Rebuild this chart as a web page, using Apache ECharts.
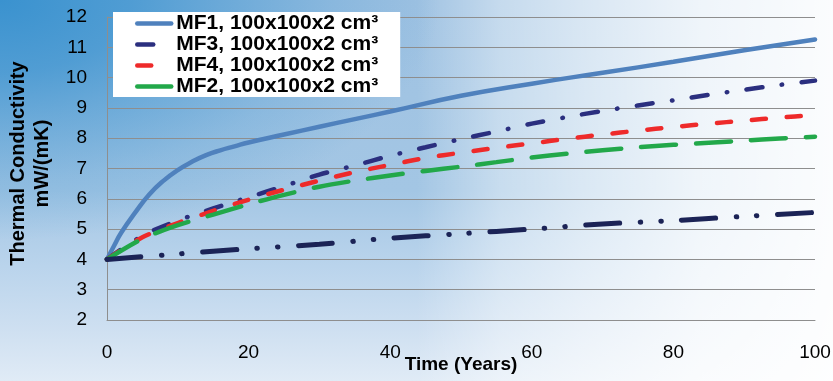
<!DOCTYPE html>
<html><head><meta charset="utf-8">
<script src="https://cdn.jsdelivr.net/npm/echarts@6/dist/echarts.min.js"></script>
<style>html,body{margin:0;padding:0;background:#fff}#c{width:833px;height:381px}</style>
</head><body><div id="c"></div>
<script>
// ---- data ----
const yearsFine = [0,1,2,4,6,8,10,12,14,16,18,20,25,30,35,40,50,60,70,80,90,100];
const mf1 = [4,4.45,4.88,5.55,6.15,6.6,6.95,7.22,7.44,7.6,7.73,7.86,8.12,8.38,8.63,8.88,9.4,9.8,10.16,10.52,10.9,11.26];
const years = [0,5,10,15,20,25,30,35,40,45,50,55,60,65,70,75,80,85,90,95,100];
const mf3 = [4,4.78,5.28,5.68,6.05,6.42,6.8,7.1,7.42,7.7,7.97,8.22,8.48,8.7,8.9,9.08,9.25,9.43,9.6,9.76,9.9];
const mf4 = [4,4.73,5.2,5.6,5.97,6.3,6.6,6.88,7.12,7.35,7.52,7.68,7.83,7.98,8.12,8.25,8.37,8.48,8.58,8.68,8.76];
const mf2 = [4,4.68,5.13,5.48,5.82,6.13,6.4,6.6,6.77,6.92,7.06,7.21,7.36,7.49,7.6,7.7,7.78,7.85,7.92,7.99,8.05];
const years10 = [0,10,20,30,40,50,60,70,80,90,100];
const base5 = [4,4.18,4.35,4.5,4.7,4.85,5.0,5.17,5.28,5.42,5.55];
const names = ['MF1, 100x100x2 cm³','MF3, 100x100x2 cm³','MF4, 100x100x2 cm³','MF2, 100x100x2 cm³'];
const xTitle = 'Time (Years)';
const yTitle = 'Thermal Conductivity\nmW/(mK)';

const pair = (xs, ys) => xs.map((x, i) => [x, ys[i]]);
const FF = "'Liberation Sans', Arial, sans-serif";
const chart = echarts.init(document.getElementById('c'), null, {renderer:'canvas'});

const mkLine = (name, data, color, width, type, smooth) => ({
  name, type:'line', data, symbol:'none', showSymbol:false, smooth:smooth,
  lineStyle:{color, width, type, cap:'round'}, itemStyle:{color}
});

chart.setOption({
  animation:false,
  graphic:[
    {type:'rect', x:0, y:0, z:-30, silent:true, shape:{width:833,height:381},
     style:{fill:{type:'linear',x:0,y:0,x2:0,y2:1,colorStops:[
       {offset:0,color:'#9fc2e2'},{offset:0.5,color:'#a3c6e4'},{offset:0.7,color:'#bad4ec'},
       {offset:0.87,color:'#cfe0f1'},{offset:1,color:'#e0ebf6'}]}}},
    {type:'rect', x:0, y:0, z:-20, silent:true, scaleX:440/240, shape:{width:240,height:240},
     style:{fill:{type:'radial',x:0,y:0,r:1,colorStops:[
       {offset:0,color:'rgba(58,146,207,1)'},{offset:0.3,color:'rgba(58,146,207,0.78)'},
       {offset:0.5,color:'rgba(58,146,207,0.52)'},{offset:0.75,color:'rgba(58,146,207,0.22)'},
       {offset:1,color:'rgba(58,146,207,0)'}]}}},
    {type:'rect', x:0, y:0, z:-10, silent:true, shape:{width:833,height:381},
     style:{fill:{type:'linear',x:0,y:0,x2:1,y2:0,colorStops:[
       {offset:0,color:'rgba(255,255,255,0)'},{offset:0.5,color:'rgba(255,255,255,0)'},
       {offset:0.6,color:'rgba(255,255,255,0.4)'},{offset:0.7,color:'rgba(255,255,255,0.6)'},
       {offset:0.84,color:'rgba(255,255,255,0.83)'},{offset:1,color:'rgba(255,255,255,0.96)'}]}}}
  ],
  grid:{left:107, top:17, width:708, height:303, containLabel:false, outerBoundsMode:'none'},
  legend:{
    data:names, orient:'vertical', left:113, top:12, backgroundColor:'#fff',
    padding:[1,22,0,22], itemGap:0, itemWidth:34, itemHeight:14,
    itemStyle:{opacity:0},
    lineStyle:{width:4.5, cap:'round'},
    textStyle:{fontFamily:FF, fontWeight:'bold', fontSize:21, lineHeight:21, color:'#000'}
  },
  xAxis:{
    type:'value', min:0, max:100, interval:20,
    axisLine:{show:true, onZero:false, lineStyle:{color:'#8e8e8e', width:1}},
    axisTick:{show:false}, splitLine:{show:false},
    axisLabel:{fontFamily:FF, fontSize:19, color:'#000', margin:23},
    name:xTitle, nameLocation:'middle', nameGap:35, nameMoveOverlap:false,
    nameTextStyle:{fontFamily:FF, fontSize:19, fontWeight:'bold', color:'#000'}
  },
  yAxis:{
    type:'value', min:2, max:12, interval:1,
    axisLine:{show:true, lineStyle:{color:'#8e8e8e', width:1}},
    axisTick:{show:false},
    splitLine:{show:true, lineStyle:{color:'#8e8e8e', width:1}},
    axisLabel:{fontFamily:FF, fontSize:19, color:'#000', margin:20},
    name:yTitle, nameLocation:'middle', nameGap:53, nameRotate:90, nameMoveOverlap:false,
    nameTextStyle:{fontFamily:FF, fontSize:20, fontWeight:'bold', color:'#000', lineHeight:24, padding:[0,0,0,10]}
  },
  series:[
    mkLine(names[0], pair(yearsFine, mf1), '#4f81bd', 4.5, 'solid', 0.5),
    mkLine(names[1], pair(years, mf3), '#2b2f7f', 4.5, [16,19.5,0.5,19.5], 0.3),
    mkLine(names[2], pair(years, mf4), '#ee2a2a', 4.5, [14,21], 0.3),
    mkLine(names[3], pair(years, mf2), '#22a84a', 4.5, [35,20], 0.3),
    mkLine('Series 5', pair(years10, base5), '#1b2356', 5, [34,20.5,0.5,20,0.5,20.5], 0.3)
  ]
});
</script></body></html>
